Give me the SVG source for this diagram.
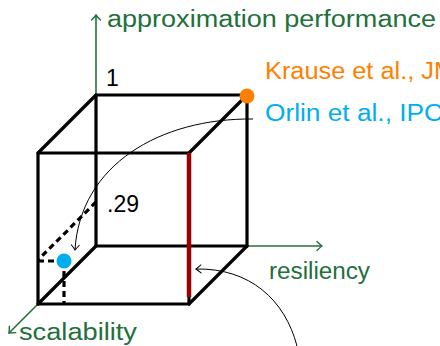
<svg xmlns="http://www.w3.org/2000/svg" width="440" height="346" viewBox="0 0 440 346">
<style>
.t{font-family:"Liberation Sans","DejaVu Sans",sans-serif;}
.edge{stroke:#000;stroke-width:3.2;fill:none;stroke-linecap:round;stroke-linejoin:round}
.dash{stroke:#000;stroke-width:3.2;fill:none;stroke-dasharray:6 4}
.axis{stroke:#22703c;stroke-width:1.6;fill:none}
.curve{stroke:#000;stroke-width:1;fill:none}
.green{fill:#22703c}
</style>
<defs>
<marker id="ga" markerUnits="userSpaceOnUse" markerWidth="12" markerHeight="12" refX="0" refY="0" viewBox="-8 -6 10 12" orient="auto">
<path d="M-5,-4.5 Q-1.5,-1 0,0 Q-1.5,1 -5,4.5" fill="none" stroke="#22703c" stroke-width="1.4" stroke-linecap="round"/>
</marker>
<marker id="ba" markerUnits="userSpaceOnUse" markerWidth="12" markerHeight="12" refX="0" refY="0" viewBox="-8 -6 10 12" orient="auto">
<path d="M-5,-4 Q-1.5,-1 0,0 Q-1.5,1 -5,4" fill="none" stroke="#000" stroke-width="1" stroke-linecap="round"/>
</marker>
</defs>
<g id="axes">
<line class="axis" x1="96" y1="95" x2="96" y2="15" marker-end="url(#ga)"/>
<line class="axis" x1="247" y1="246" x2="322" y2="246" marker-end="url(#ga)"/>
<line class="axis" x1="38" y1="304" x2="9" y2="333" marker-end="url(#ga)"/>
<text class="t green" x="107" y="27" font-size="23" textLength="329" lengthAdjust="spacingAndGlyphs">approximation performance</text>
<text class="t green" x="269" y="279" font-size="23" textLength="101" lengthAdjust="spacingAndGlyphs">resiliency</text>
<text class="t green" x="19" y="340" font-size="23" textLength="118" lengthAdjust="spacingAndGlyphs">scalability</text>
</g>
<g id="cube">
<rect class="edge" x="96" y="95" width="151" height="151"/>
<rect class="edge" x="38" y="153" width="151" height="151"/>
<line class="edge" x1="96" y1="95" x2="38" y2="153"/>
<line class="edge" x1="247" y1="95" x2="189" y2="153"/>
<line class="edge" x1="247" y1="246" x2="189" y2="304"/>
<line class="edge" x1="96" y1="246" x2="38" y2="304"/>
<text class="t" x="106" y="86" font-size="23" fill="#000">1</text>
<text class="t" x="107" y="212" font-size="23" fill="#000" textLength="32" lengthAdjust="spacingAndGlyphs">.29</text>
</g>
<g id="resilient-edge">
<line x1="189" y1="153" x2="189" y2="297" stroke="#990000" stroke-width="4.5"/>
</g>
<g id="orlin-point">
<line class="dash" x1="96" y1="202" x2="38" y2="260"/>
<line class="dash" x1="38" y1="261" x2="64" y2="261"/>
<line class="dash" x1="64" y1="261" x2="64" y2="304"/>
<circle cx="64" cy="261" r="7.5" fill="#00aeef"/>
</g>
<g id="krause-point">
<circle cx="247" cy="96" r="7.5" fill="#ff8000"/>
</g>
<g id="labels">
<text class="t" x="265" y="79" font-size="23" fill="#ff8000" textLength="190" lengthAdjust="spacingAndGlyphs">Krause et al., JM</text>
<text class="t" x="265" y="121" font-size="23" fill="#00aeef" textLength="178" lengthAdjust="spacingAndGlyphs">Orlin et al., IPC</text>
</g>
<g id="connectors">
<path class="curve" d="M253,119 C160,118 80,165 75,250" marker-end="url(#ba)"/>
<path class="curve" d="M297,346 C285,300 250,268 196,269" marker-end="url(#ba)"/>
</g>
</svg>
